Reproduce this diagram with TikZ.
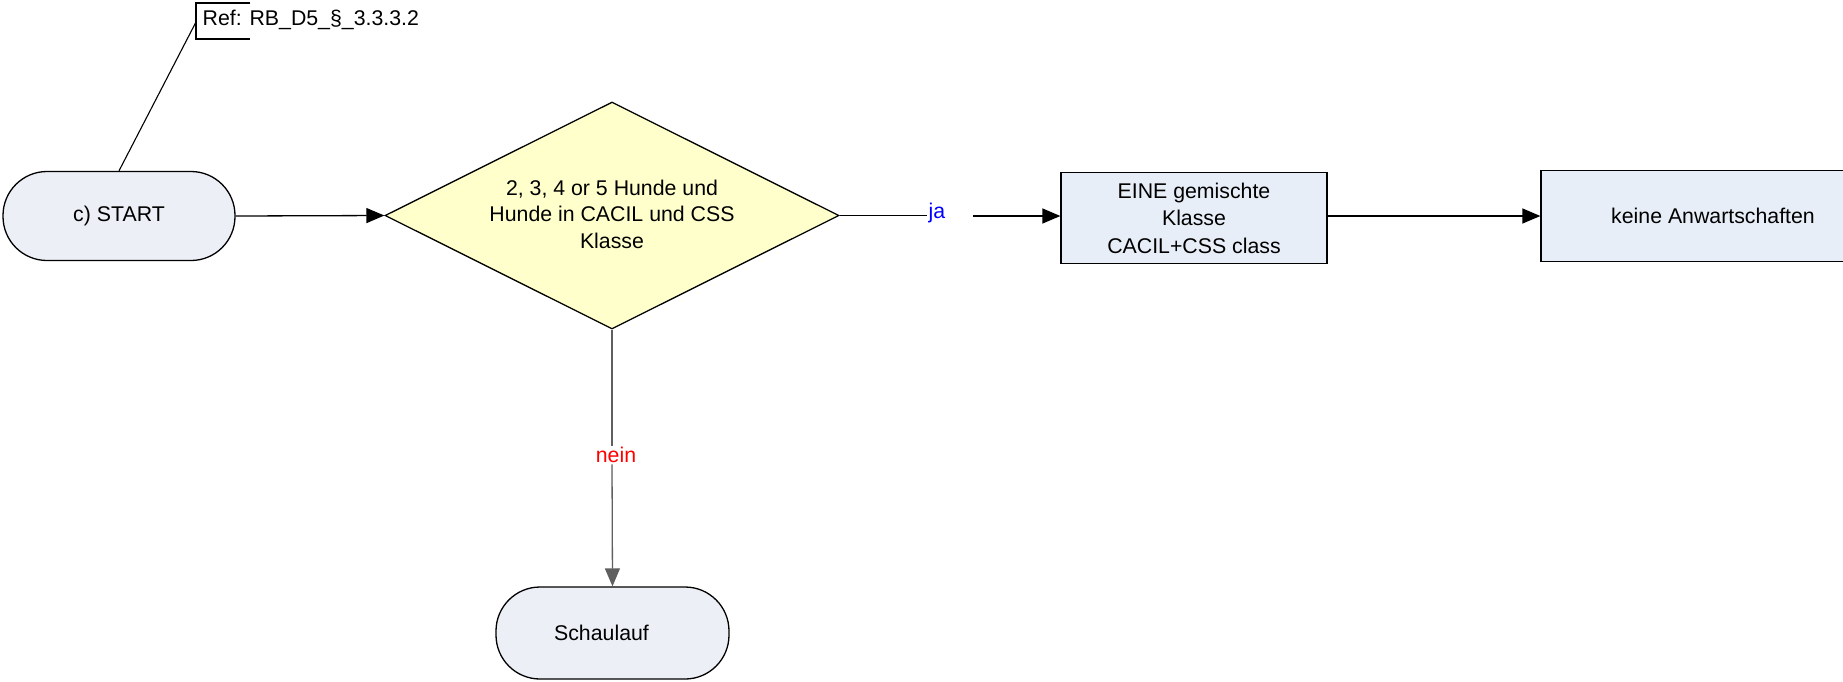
\documentclass[tikz,border=0pt]{standalone}
\usepackage{fontspec}
\setmainfont{Liberation Sans}
\usetikzlibrary{shapes.geometric,arrows.meta}
\definecolor{termfill}{RGB}{236,239,245}
\definecolor{boxfill}{RGB}{232,238,248}
\definecolor{decfill}{RGB}{255,255,204}
\definecolor{neingray}{RGB}{95,95,95}
\definecolor{jablue}{RGB}{0,0,255}
\definecolor{neinred}{RGB}{255,0,0}
\begin{document}
\begin{tikzpicture}[x=1pt,y=-1pt,
  font=\fontsize{21.3}{26.5}\selectfont,
  line width=1.3pt,
  termnode/.style={draw, fill=termfill, rounded corners=44pt, minimum width=232pt, minimum height=89pt, inner sep=0pt},
  procnode/.style={draw, fill=boxfill, minimum height=91pt, inner sep=0pt, align=center},
  decnode/.style={draw, fill=decfill, shape=diamond, minimum width=454pt, minimum height=227pt, inner sep=0pt},
  flowarrow/.style={-{Triangle[length=18pt,width=15pt]}},
  lbl/.style={inner sep=1pt}
]
\useasboundingbox (0,0) rectangle (1843,681);
\clip (0,0) rectangle (1843,681);

\node[termnode] (start) at (119,216) {c) START};
\node[decnode] (dec) at (612,215.5) {};
\node[align=center, inner sep=0pt] (dectext) at (612,214) {2, 3, 4 or 5 Hunde und\\Hunde in CACIL und CSS\\Klasse};
\node[procnode, minimum width=266pt, font=\fontsize{21.3}{27.5}\selectfont] (b1) at (1194,218) {EINE gemischte\\Klasse\\CACIL+CSS class};
\node[procnode, minimum width=344pt] (b2) at (1713,216) {keine Anwartschaften};
\node[termnode, minimum width=233pt, minimum height=92pt] (sch) at (612.5,633) {Schaulauf\hspace*{22pt}};

% reference annotation
\node[anchor=west, inner sep=0pt] (ref) at (202,20) {Ref: RB\_D5\_§\_3.3.3.2};
\coordinate (refmid) at (196,22);
\draw[line width=1.1pt] (250,3) -- (196,3) -- (196,39) -- (250,39);
\draw[line width=1.1pt] (start.north) -- (refmid);

% connectors
\draw[flowarrow] (start.east) -- (dec.west);

\node[lbl, text=jablue] (ja) at (937,213) {ja};
\coordinate (jagap) at (973,216);
\draw (dec.east) -- (dec.east -| ja.west);
\draw[flowarrow] (jagap) -- (b1.west |- jagap);

\draw[flowarrow] (b1.east |- b2.west) -- (b2.west);

\node[lbl, text=neinred] (nein) at (616,455) {nein};
\draw[draw=neingray] (dec.south) -- (dec.south |- nein.north);
\draw[draw=neingray, fill=neingray, flowarrow] (dec.south |- nein.south) -- (sch.north);
\end{tikzpicture}
\end{document}
